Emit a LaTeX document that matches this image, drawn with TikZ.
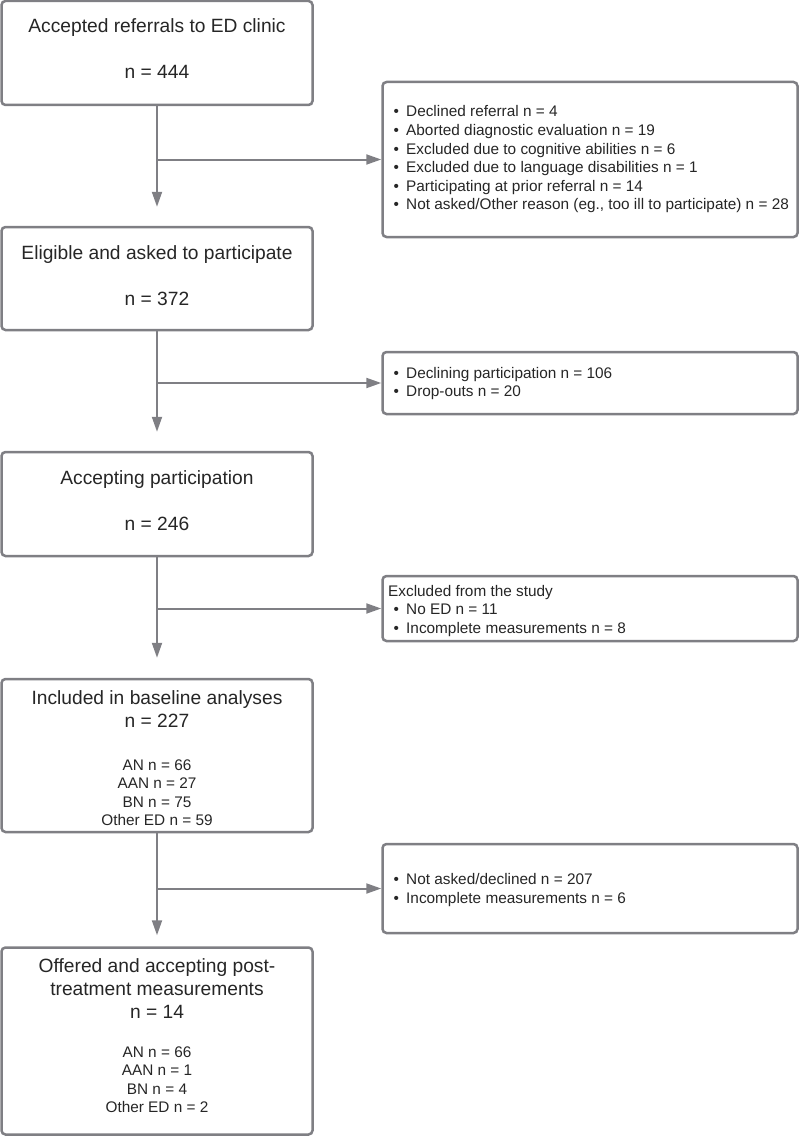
\documentclass[tikz,border=0pt]{standalone}
\usepackage{fontspec}
\setmainfont{Liberation Sans}
\usetikzlibrary{arrows.meta}
\definecolor{linegray}{HTML}{7F7F84}
\definecolor{txt}{HTML}{262626}
\tikzset{
  box/.style={draw=linegray, line width=2.5pt, rounded corners=4pt, fill=white, inner sep=0pt},
  arr/.style={draw=linegray, line width=2pt, -{Triangle[length=15pt,width=10pt]}},
  big/.style={text=txt, inner sep=0pt, anchor=base, font=\fontsize{19.2}{22}\selectfont},
  small/.style={text=txt, inner sep=0pt, anchor=base, font=\fontsize{15.35}{18.6}\selectfont},
  lsmall/.style={text=txt, inner sep=0pt, anchor=base west, font=\fontsize{15.35}{18.6}\selectfont},
}
\newcommand{\bul}{\makebox[12.7pt][l]{•}}
\begin{document}
\begin{tikzpicture}[x=1pt,y=-1pt]
\useasboundingbox (0,0) rectangle (800,1137);
% main boxes
\node[box, minimum width=311pt, minimum height=104pt] (b1) at (157,53) {};
\node[box, minimum width=311pt, minimum height=103pt] (b2) at (157,278.5) {};
\node[box, minimum width=311pt, minimum height=104pt] (b3) at (157,504) {};
\node[box, minimum width=311pt, minimum height=153pt] (b4) at (157,755.5) {};
\node[box, minimum width=311pt, minimum height=187pt] (b5) at (157,1041) {};
% side boxes
\node[box, minimum width=415pt, minimum height=155pt] (bA) at (590,159.5) {};
\node[box, minimum width=415pt, minimum height=62pt] (bB) at (590,383) {};
\node[box, minimum width=415pt, minimum height=65pt] (bC) at (590,608.5) {};
\node[box, minimum width=415pt, minimum height=89pt] (bD) at (590,888.5) {};
% connectors
\draw[arr, shorten >=19pt] (b1.south) -- (b2.north);
\draw[arr] (b1.south |- bA.west) -- (bA.west);
\draw[arr, shorten >=19pt] (b2.south) -- (b3.north);
\draw[arr] (b2.south |- bB.west) -- (bB.west);
\draw[arr, shorten >=20pt] (b3.south) -- (b4.north);
\draw[arr] (b3.south |- bC.west) -- (bC.west);
\draw[arr, shorten >=11pt] (b4.south) -- (b5.north);
\draw[arr] (b4.south |- bD.west) -- (bD.west);
% box 1 text
\node[big] (t1a) at (157,33) {Accepted referrals to ED clinic};
\node[big] (t1b) at (157,79) {n = 444};
% box 2
\node[big] (t2a) at (157,259) {Eligible and asked to participate};
\node[big] (t2b) at (157,305) {n = 372};
% box 3
\node[big] (t3a) at (157,484) {Accepting participation};
\node[big] (t3b) at (157,530) {n = 246};
% box 4
\node[big] (t4a) at (157,704) {Included in baseline analyses};
\node[big] (t4b) at (157,727.3) {n = 227};
\node[small] (t4c) at (157,770) {AN n = 66};
\node[small] (t4d) at (157,788.5) {AAN n = 27};
\node[small] (t4e) at (157,807) {BN n = 75};
\node[small] (t4f) at (157,825.5) {Other ED n = 59};
% box 5
\node[big] (t5a) at (157,972.7) {Offered and accepting post-};
\node[big] (t5b) at (157,995.5) {treatment measurements};
\node[big] (t5c) at (157,1018.3) {n = 14};
\node[small] (t5d) at (157,1057.3) {AN n = 66};
\node[small] (t5e) at (157,1075.8) {AAN n = 1};
\node[small] (t5f) at (157,1094.3) {BN n = 4};
\node[small] (t5g) at (157,1112.8) {Other ED n = 2};
% box A
\node[lsmall] (tA1) at (393.3,116.7) {\bul Declined referral n = 4};
\node[lsmall] (tA2) at (393.3,135.3) {\bul Aborted diagnostic evaluation n = 19};
\node[lsmall] (tA3) at (393.3,154) {\bul Excluded due to cognitive abilities n = 6};
\node[lsmall] (tA4) at (393.3,172.6) {\bul Excluded due to language disabilities n = 1};
\node[lsmall] (tA5) at (393.3,191.2) {\bul Participating at prior referral n = 14};
\node[lsmall] (tA6) at (393.3,209.6) {\bul Not asked/Other reason (eg., too ill to participate) n = 28};
% box B
\node[lsmall] (tB1) at (393.3,378.3) {\bul Declining participation n = 106};
\node[lsmall] (tB2) at (393.3,396.8) {\bul Drop-outs n = 20};
% box C
\node[lsmall] (tC0) at (388,596) {Excluded from the study};
\node[lsmall] (tC1) at (393.3,614.6) {\bul No ED n = 11};
\node[lsmall] (tC2) at (393.3,633.2) {\bul Incomplete measurements n = 8};
% box D
\node[lsmall] (tD1) at (393.3,884.4) {\bul Not asked/declined n = 207};
\node[lsmall] (tD2) at (393.3,903) {\bul Incomplete measurements n = 6};
\end{tikzpicture}
\end{document}
